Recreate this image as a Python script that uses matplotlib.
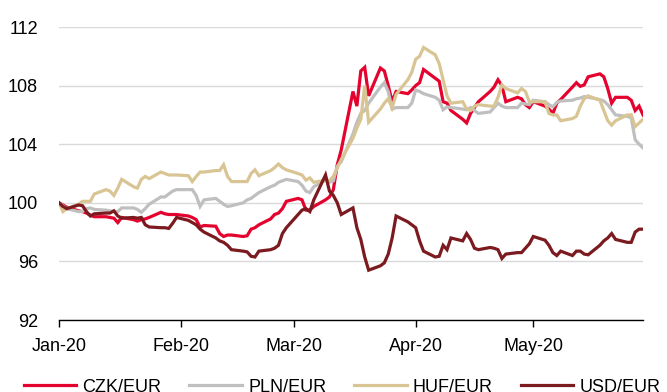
import pandas as pd
import matplotlib
matplotlib.use("Agg")
import matplotlib.pyplot as plt
import matplotlib.dates as mdates

plt.rcParams['font.family'] = ['Liberation Sans', 'DejaVu Sans']

# business days, Jan 1 - May 29 2020 (index, 1 Jan = 100)
dates = pd.bdate_range('2020-01-01', '2020-05-29')

czk = [100.0, 99.85, 99.7, 99.45, 99.4, 99.3, 99.15, 99.05, 99.05, 99.0,
       98.95, 98.65, 99.0, 98.85, 98.75, 98.85, 98.9, 99.0, 99.35, 99.25,
       99.2, 99.2, 99.2, 99.1, 99.0, 98.85, 98.35, 98.45, 98.4, 97.9,
       97.7, 97.8, 97.8, 97.7, 97.75, 98.2, 98.3, 98.5, 98.9, 99.2,
       99.3, 99.6, 100.1, 100.3, 100.2, 99.5, 99.5, 99.75, 100.2, 100.4,
       100.9, 102.6, 103.6, 107.6, 106.6, 109.0, 109.25, 107.3, 109.2, 109.0,
       108.0, 106.9, 107.6, 107.45, 107.7, 108.0, 108.2, 109.1, 108.5, 108.3,
       106.9, 106.8, 106.3, 105.7, 105.45, 106.1, 106.5, 106.9, 107.6, 107.9,
       108.4, 108.0, 106.9, 107.2, 107.1, 106.7, 106.5, 106.9, 106.6, 106.4,
       106.1, 106.8, 107.05, 107.9, 108.2, 107.95, 108.05, 108.6, 108.8, 108.6,
       107.8, 106.8, 107.2, 107.2, 107.0, 106.3, 106.6, 106.0]

pln = [100.0, 99.8, 99.6, 99.4, 99.4, 99.6, 99.65, 99.55, 99.5, 99.45,
       99.4, 99.4, 99.65, 99.65, 99.55, 99.35, 99.6, 99.9, 100.4, 100.4,
       100.6, 100.8, 100.9, 100.9, 100.9, 100.5, 99.75, 100.2, 100.3, 100.1,
       99.9, 99.75, 99.8, 100.0, 100.2, 100.3, 100.5, 100.7, 101.1, 101.2,
       101.4, 101.5, 101.6, 101.45, 101.2, 100.8, 100.7, 101.1, 101.55, 101.4,
       101.5, 102.5, 102.8, 104.7, 105.5, 106.1, 106.3, 106.8, 107.9, 108.2,
       107.6, 106.4, 106.5, 106.5, 106.8, 107.7, 107.6, 107.45, 107.2, 107.0,
       106.35, 106.55, 106.5, 106.4, 106.35, 106.5, 106.3, 106.1, 106.2, 106.5,
       106.8, 106.6, 106.5, 106.5, 106.8, 106.75, 106.7, 107.0, 106.9, 106.7,
       106.55, 106.85, 106.95, 107.0, 107.1, 107.15, 107.25, 107.2, 107.05, 106.95,
       106.7, 106.35, 106.0, 105.9, 105.8, 104.3, 104.0, 103.75]

huf = [100.0, 99.4, 99.6, 99.9, 100.1, 100.1, 100.1, 100.6, 100.9, 100.8,
       100.5, 101.0, 101.6, 101.1, 101.0, 101.6, 101.8, 101.65, 102.1, 102.0,
       101.9, 101.9, 101.9, 101.85, 101.45, 101.8, 102.1, 102.1, 102.2, 102.2,
       102.6, 101.8, 101.45, 101.45, 101.45, 102.0, 102.25, 101.85, 102.2, 102.4,
       102.65, 102.4, 102.25, 102.0, 101.9, 101.55, 101.7, 101.4, 101.55, 101.5,
       101.8, 102.4, 102.95, 104.4, 105.1, 105.7, 108.0, 105.5, 106.4, 106.8,
       107.1, 106.5, 107.4, 108.4, 108.9, 109.8, 110.0, 110.6, 110.1, 109.5,
       108.4, 107.3, 106.8, 106.9, 106.4, 106.3, 106.6, 106.7, 106.6, 106.6,
       107.2, 108.05, 107.8, 107.5, 107.8, 107.6, 106.9, 106.9, 106.9, 106.1,
       106.0, 106.0, 105.6, 105.75, 105.9, 106.6, 107.1, 107.3, 107.0, 106.3,
       105.6, 105.3, 105.6, 106.0, 106.0, 105.2, 105.45, 105.7]

usd = [100.0, 99.75, 99.6, 99.85, 99.8, 99.4, 99.1, 99.25, 99.3, 99.3,
       99.45, 99.1, 98.95, 99.0, 98.95, 99.0, 98.5, 98.35, 98.3, 98.3,
       98.25, 98.6, 99.0, 98.8, 98.65, 98.5, 98.2, 98.0, 97.6, 97.4,
       97.3, 97.1, 96.8, 96.7, 96.65, 96.35, 96.3, 96.7, 96.8, 96.9,
       97.1, 97.9, 98.3, 99.2, 99.5, 99.6, 99.4, 100.2, 101.9, 100.8,
       100.5, 100.0, 99.2, 99.65, 98.3, 97.5, 96.3, 95.4, 95.7, 95.9,
       96.5, 97.6, 99.1, 98.7, 98.5, 98.3, 97.4, 96.7, 96.3, 96.35,
       97.1, 96.8, 97.6, 97.4, 97.9, 97.5, 96.9, 96.8, 96.95, 96.9,
       96.8, 96.2, 96.5, 96.6, 96.6, 96.9, 97.2, 97.7, 97.45, 97.1,
       96.6, 96.4, 96.7, 96.4, 96.7, 96.7, 96.5, 96.45, 97.1, 97.4,
       97.6, 97.9, 97.5, 97.3, 97.3, 98.0, 98.2, 98.2]

labels = ['CZK/EUR', 'PLN/EUR', 'HUF/EUR', 'USD/EUR']
colors = ['#E4032E', '#BFBFBF', '#D9C594', '#7B1A1F']
yticks = [92, 96, 100, 104, 108, 112]

fig = plt.figure(figsize=(6.67, 3.92), dpi=100)
ax = fig.add_axes([59/667, 1 - 320/392, 584/667, 293/392])

for vals, lab, col in zip([czk, pln, huf, usd], labels, colors):
    ax.plot(dates, vals, color=col, lw=2.3, label=lab, solid_joinstyle='miter')

ax.set_xlim(pd.Timestamp('2020-01-01'), pd.Timestamp('2020-05-29'))
ax.set_ylim(92, 112)
ax.set_yticks(yticks)
ax.yaxis.grid(True, color='#D9D9D9', lw=1)
ax.set_axisbelow(True)

ax.xaxis.set_major_locator(mdates.MonthLocator())
ax.xaxis.set_major_formatter(mdates.DateFormatter('%b-%y'))

for s in ['top', 'right', 'left']:
    ax.spines[s].set_visible(False)
ax.spines['bottom'].set_color('black')
ax.spines['bottom'].set_linewidth(1)
ax.tick_params(axis='y', length=0, pad=15, labelsize=13)
ax.tick_params(axis='x', length=5, width=1, pad=8, labelsize=13)

fig.legend(loc='center', bbox_to_anchor=(0.513, 1 - 387/392), ncol=4,
           frameon=False, fontsize=13, handlelength=2.9, handletextpad=0.35,
           columnspacing=1.55, borderpad=0, borderaxespad=0)

fig.savefig('out.png', dpi=100)
